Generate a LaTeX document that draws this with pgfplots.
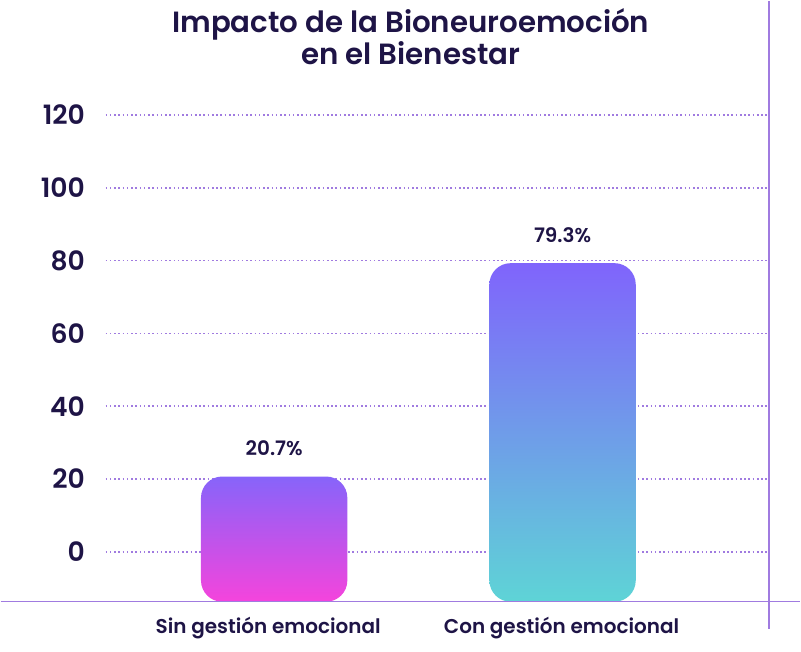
\documentclass[border=0pt]{standalone}
\usepackage{pgfplots}
\pgfplotsset{compat=1.18}
\usepackage{fontspec}
\setmainfont{Poppins}[BoldFont={Poppins SemiBold}]
\definecolor{navy}{HTML}{1E1446}
\definecolor{axpurple}{HTML}{A07BE0}
\begin{document}
\begin{tikzpicture}[x=1pt,y=1pt]
\begin{axis}[
  scale only axis, width=498.75pt, height=379.5pt,
  xmin=105, xmax=770, ymin=5, ymax=143.7,
  axis line style={draw=none}, major tick length=0pt,
  ybar, bar width=110pt, bar shift=0pt,
  ytick={18.7,38.7,58.7,78.7,98.7,118.7,138.7},
  yticklabels={0,20,40,60,80,100,120},
  ymajorgrids, grid style={axpurple, line width=1.2pt, dotted},
  yticklabel style={font=\fontsize{20}{24}\selectfont\bfseries, text=navy, xshift=-12pt},
  xtick={268,562},
  xticklabels={Sin gestión emocional,Con gestión emocional},
  xticklabel style={font=\fontsize{15}{18}\selectfont\bfseries, text=navy, yshift=-8pt},
  /pgf/number format/assume math mode=true,
  nodes near coords, point meta=explicit symbolic,
  every node near coord/.append style={font=\fontsize{15}{18}\selectfont\bfseries, text=navy, yshift=12pt},
]
\addplot[draw=none, rounded corners=16pt,
  top color={rgb,255:red,135;green,100;blue,250}, bottom color={rgb,255:red,245;green,68;blue,220}]
  coordinates {(274,39.4) [20.7\%]};
\addplot[draw=none, rounded corners=16pt,
  top color={rgb,255:red,128;green,100;blue,252}, bottom color={rgb,255:red,94;green,212;blue,214}]
  coordinates {(563,98.0) [79.3\%]};
\coordinate (l0) at (rel axis cs:-0.158,0);
\coordinate (r0) at (rel axis cs:1.047,0);
\coordinate (v0) at (rel axis cs:1,-0.053);
\coordinate (v1) at (rel axis cs:1,1.19);
\coordinate (tt) at (rel axis cs:0.46,1.12);
\coordinate (bl) at (rel axis cs:-0.158,-0.0988);
\coordinate (tr) at (rel axis cs:1.0466,1.1917);
\end{axis}
\draw[axpurple, line width=1pt] (l0) -- (r0);
\draw[axpurple, line width=1pt] (v0) -- (v1);
\node[font=\fontsize{22}{24}\selectfont\bfseries, text=navy, align=center] at (tt) {Impacto de la Bioneuroemoción\\en el Bienestar};
\useasboundingbox (bl) rectangle (tr);
\end{tikzpicture}
\end{document}
